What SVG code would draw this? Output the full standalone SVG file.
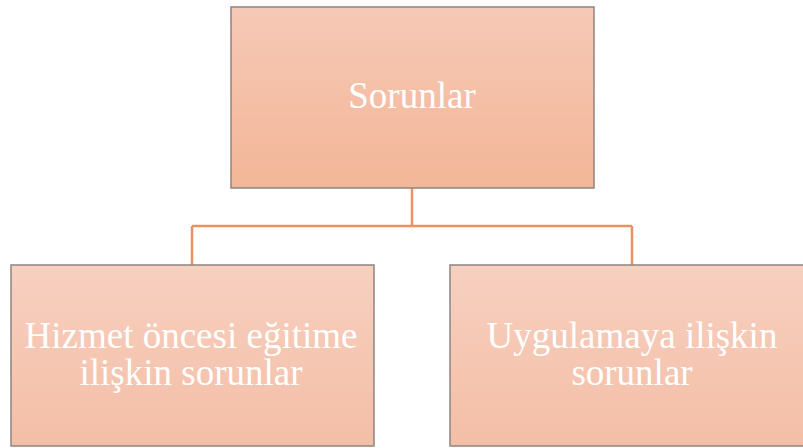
<svg xmlns="http://www.w3.org/2000/svg" width="803" height="448" viewBox="0 0 803 448">
  <defs>
    <linearGradient id="gTop" x1="0" y1="0" x2="0" y2="1">
      <stop offset="0" stop-color="#f6c9b6"/>
      <stop offset="1" stop-color="#f3b698"/>
    </linearGradient>
    <linearGradient id="gChild" x1="0" y1="0" x2="0" y2="1">
      <stop offset="0" stop-color="#f7d0c0"/>
      <stop offset="1" stop-color="#f4bea6"/>
    </linearGradient>
    <style>
      .box { stroke: #8d8581; stroke-width: 1.5; }
      .label { font-family: "Liberation Serif", "Times New Roman", serif; font-size: 37px; fill: #ffffff; text-anchor: middle; }
      .link { fill: none; stroke: #ee9066; stroke-width: 2.5; }
    </style>
  </defs>

  <g id="connectors">
    <path class="link" d="M412,188 V226 M192,226 H632 M192,226 V265 M632,226 V265"/>
  </g>

  <g id="root">
    <rect class="box" x="231" y="7" width="363" height="181" fill="url(#gTop)"/>
    <text class="label" x="412" y="108">Sorunlar</text>
  </g>

  <g id="pre-service">
    <rect class="box" x="11" y="265" width="363" height="181" fill="url(#gChild)"/>
    <text class="label" x="191" y="348">Hizmet öncesi eğitime</text>
    <text class="label" x="191" y="385">ilişkin sorunlar</text>
  </g>

  <g id="practice">
    <rect class="box" x="450" y="265" width="363" height="181" fill="url(#gChild)"/>
    <text class="label" x="632" y="348">Uygulamaya ilişkin</text>
    <text class="label" x="632" y="385">sorunlar</text>
  </g>
</svg>
